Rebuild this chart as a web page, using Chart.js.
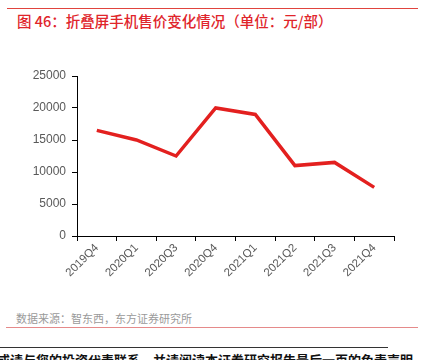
<!DOCTYPE html>
<html>
<head>
<meta charset="utf-8">
<script src="https://cdn.jsdelivr.net/npm/chart.js@4"></script>
<style>
  body { margin: 0; width: 430px; height: 360px; background: #fff; position: relative; overflow: hidden;
         font-family: "Noto Sans CJK SC", "Liberation Sans", sans-serif; }
  .topline { position: absolute; left: 7px; top: 8px; width: 411px; height: 1px; background: #e0443e; z-index: 2; }
  .title { position: absolute; left: 17px; top: 11px; font-size: 14.5px; line-height: 20px; font-weight: 500; color: #e0252b; white-space: nowrap; }
  .box { position: absolute; left: 0; top: 60px; width: 400px; height: 226px; }
  .source { position: absolute; left: 16px; top: 310px; font-size: 11px; color: #9a9a9a; white-space: nowrap; }
  .srcline { position: absolute; left: 6px; top: 327px; width: 412px; height: 1px; background: #e58a8a; }
  .blackline { position: absolute; left: 0; top: 347px; width: 388px; height: 1px; background: #333; }
  .foot { position: absolute; left: -3px; top: 350px; font-size: 13px; font-weight: bold; color: #111; white-space: nowrap; }
</style>
</head>
<body>
<div class="topline"></div>
<div class="title">图 46：折叠屏手机售价变化情况（单位：元/部）</div>
<div class="box"><canvas id="canvas"></canvas></div>
<div class="source">数据来源：智东西，东方证券研究所</div>
<div class="srcline"></div>
<div class="blackline"></div>
<div class="foot">或请与您的投资代表联系，并请阅读本证券研究报告最后一页的免责声明</div>
<script>
const quarters = ['2019Q4', '2020Q1', '2020Q3', '2020Q4', '2021Q1', '2021Q2', '2021Q3', '2021Q4'];
const prices = [16500, 15000, 12500, 20000, 19000, 11000, 11500, 7600];

let ctx = document.getElementById('canvas').getContext('2d');

const tickFont = { family: 'Liberation Sans', size: 12 };

new Chart(ctx, {
  type: 'line',
  data: {
    labels: quarters,
    datasets: [{
      data: prices,
      borderColor: '#e3201f',
      borderWidth: 3.5,
      pointRadius: 0,
      fill: false,
      tension: 0
    }]
  },
  options: {
    responsive: true,
    maintainAspectRatio: false,
    animation: false,
    layout: { padding: { top: 16, right: 6, left: 0, bottom: 0 } },
    plugins: { legend: { display: false }, tooltip: { enabled: false } },
    scales: {
      x: {
        offset: true,
        grid: { offset: true, drawOnChartArea: false, drawTicks: true, tickLength: 5, color: '#000' },
        border: { color: '#000', width: 1 },
        ticks: { color: '#595959', font: { family: 'Liberation Sans', size: 11.5 }, maxRotation: 45, minRotation: 45, padding: 0 },
        afterFit: scale => { scale.height = 50; }
      },
      y: {
        min: 0,
        max: 25000,
        ticks: { stepSize: 5000, color: '#595959', font: tickFont, padding: 6, callback: v => String(v) },
        grid: { drawOnChartArea: false, drawTicks: true, tickLength: 5, color: '#000' },
        border: { color: '#000', width: 1 },
        afterFit: scale => { scale.width = 77; }
      }
    }
  }
});
</script>
</body>
</html>
